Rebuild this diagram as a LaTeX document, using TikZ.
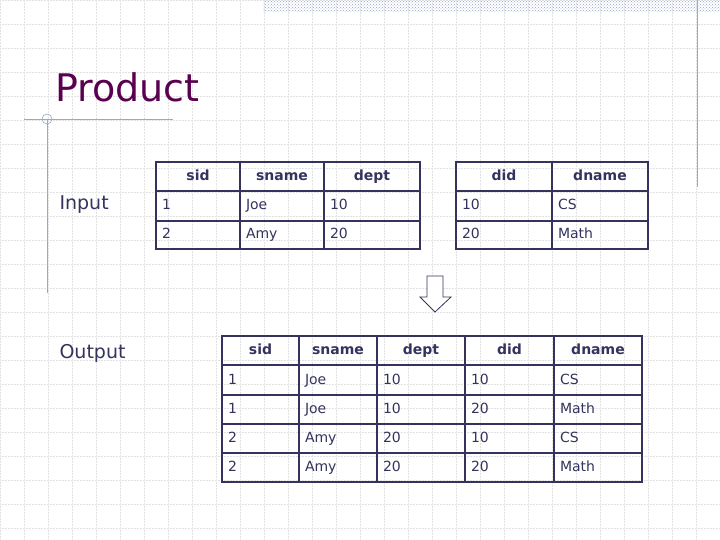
\documentclass[tikz,border=0pt]{standalone}
\usepackage{fontspec}
\setmainfont{DejaVu Sans}
\usetikzlibrary{patterns}
\definecolor{ink}{HTML}{33335E}
\definecolor{ttl}{HTML}{5A0050}
\definecolor{gridc}{HTML}{E2E2E2}
\definecolor{rule}{HTML}{98A6D0}
\tikzset{
  cellst/.style={draw=ink, line width=1.4pt, inner sep=0pt, text=ink, text height=11pt, text depth=3pt, font=\fontsize{14}{16}\selectfont},
  hd/.style={align=center, font=\fontsize{14}{16}\selectfont\bfseries},
  dt/.style={align=left},
  lbl/.style={text=ink, font=\fontsize{19}{22}\selectfont, anchor=west},
  gridst/.style={gridc, densely dotted, line width=0.5pt}
}
\newcommand\cel[7]{\node[cellst, minimum width={(#4-#2)*1pt}, minimum height={(#5-#3)*1pt}, text width={(#4-#2-12)*1pt}, #7] (#1) at ({(#2+#4)/2},{(#3+#5)/2}) {#6};}
\begin{document}
\begin{tikzpicture}[x=1pt,y=-1pt]
\useasboundingbox (0,0) rectangle (720,540);
\fill[white] (0,0) rectangle (720,540);
\foreach \i in {0,24,...,720} \draw[gridst] (\i,0) -- (\i,540);
\foreach \j in {0,24,...,540} \draw[gridst] (0,\j) -- (720,\j);
\fill[pattern=crosshatch dots, pattern color=rule] (263,0) rectangle (720,12);
\draw[rule, line width=0.8pt] (697,0) -- (697,187);
\draw[rule, line width=0.8pt] (24,119) -- (173,119);
\draw[rule, line width=0.8pt] (47,119) -- (47,293);
\draw[rule, line width=0.6pt] (47,119) circle (5);
\node[text=ttl, font=\fontsize{38}{44}\selectfont, anchor=west, inner sep=0pt] (title) at (55,87) {Product};
\node[lbl] (in) at (56,205) {Input};
\node[lbl] (out) at (56,353) {Output};
% table 1
\cel{a1}{156}{162}{240}{191}{sid}{hd}
\cel{a2}{240}{162}{324}{191}{sname}{hd}
\cel{a3}{324}{162}{420}{191}{dept}{hd}
\cel{a4}{156}{191}{240}{221}{1}{dt}
\cel{a5}{240}{191}{324}{221}{Joe}{dt}
\cel{a6}{324}{191}{420}{221}{10}{dt}
\cel{a7}{156}{221}{240}{249}{2}{dt}
\cel{a8}{240}{221}{324}{249}{Amy}{dt}
\cel{a9}{324}{221}{420}{249}{20}{dt}
% table 2
\cel{b1}{456}{162}{552}{191}{did}{hd}
\cel{b2}{552}{162}{648}{191}{dname}{hd}
\cel{b3}{456}{191}{552}{221}{10}{dt}
\cel{b4}{552}{191}{648}{221}{CS}{dt}
\cel{b5}{456}{221}{552}{249}{20}{dt}
\cel{b6}{552}{221}{648}{249}{Math}{dt}
% arrow
\draw[ink, line width=0.8pt, fill=white] (427,276) -- (443,276) -- (443,297) -- (451,297) -- (435,312) -- (420,297) -- (427,297) -- cycle;
% output table
\cel{h1}{222}{336}{299}{365}{sid}{hd}
\cel{h2}{299}{336}{377}{365}{sname}{hd}
\cel{h3}{377}{336}{465}{365}{dept}{hd}
\cel{h4}{465}{336}{554}{365}{did}{hd}
\cel{h5}{554}{336}{642}{365}{dname}{hd}
\foreach \r/\ya/\yb/\va/\vb/\vc/\vd/\ve in {1/365/395/1/Joe/10/10/CS,2/395/424/1/Joe/10/20/Math,3/424/453/2/Amy/20/10/CS,4/453/482/2/Amy/20/20/Math}{
  \cel{r\r c1}{222}{\ya}{299}{\yb}{\va}{dt}
  \cel{r\r c2}{299}{\ya}{377}{\yb}{\vb}{dt}
  \cel{r\r c3}{377}{\ya}{465}{\yb}{\vc}{dt}
  \cel{r\r c4}{465}{\ya}{554}{\yb}{\vd}{dt}
  \cel{r\r c5}{554}{\ya}{642}{\yb}{\ve}{dt}
}
\end{tikzpicture}
\end{document}
